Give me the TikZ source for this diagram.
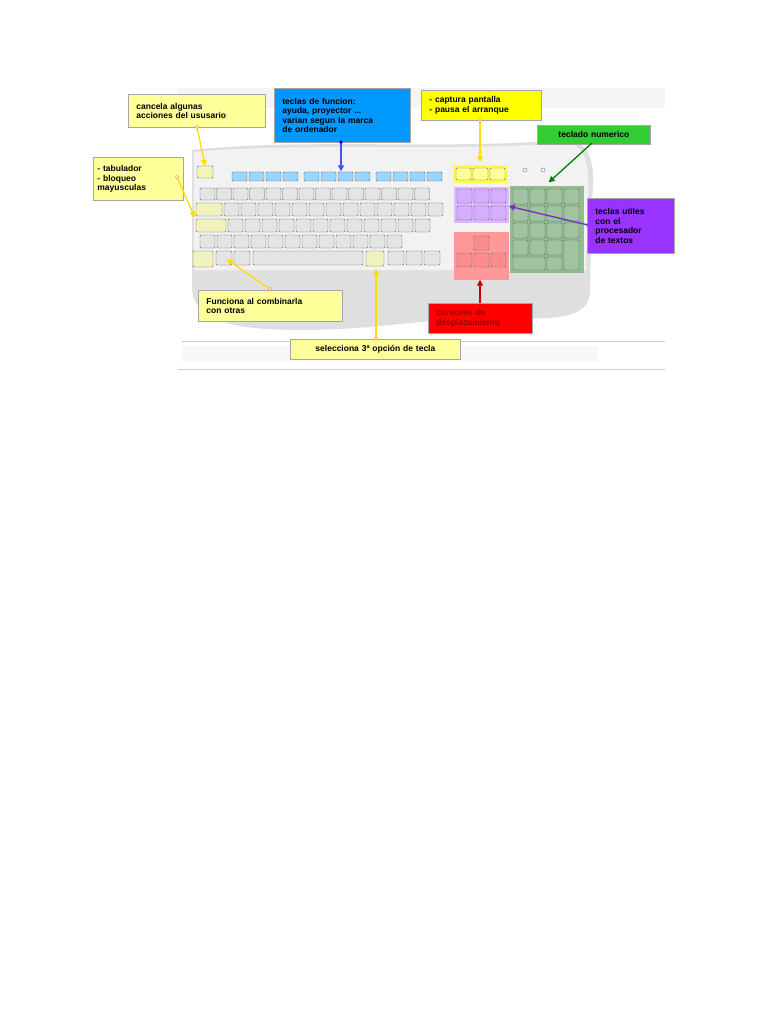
\documentclass[tikz,border=0pt]{standalone}
\usepackage{fontspec}
\setmainfont{Liberation Sans}
\usetikzlibrary{arrows.meta}
\definecolor{lyel}{HTML}{FFFF99}
\definecolor{byel}{HTML}{FFFF00}
\definecolor{lblue}{HTML}{0099FF}
\definecolor{lgreen}{HTML}{33CC33}
\definecolor{lpurp}{HTML}{9933FF}
\definecolor{lred}{HTML}{FF0000}
\definecolor{keyg}{HTML}{E4E4E4}
\tikzset{
 lab/.style={draw=gray!70,line width=0.8pt,anchor=north west,align=left,font=\bfseries\fontsize{8.5}{9.5}\selectfont,inner xsep=8pt,inner ysep=3pt},
 key/.style={draw=gray!80!black,fill=keyg,rounded corners=1pt,line width=0.4pt},
 ptr/.style={line width=1.3pt,-{Triangle[length=6pt,width=6pt]}},
 dot/.style={circle,inner sep=1.2pt,fill=white,draw},
}
\begin{document}
\begin{tikzpicture}[x=1pt,y=-1pt]
\useasboundingbox (0,0) rectangle (768,1024);
\fill[white] (0,0) rectangle (768,1024);
% image area
\fill[gray!8] (178,88) rectangle (665,108);
\fill[gray!6] (182,346) rectangle (597,362);
\draw[gray!40] (182,341) -- (665,341);
\draw[gray!40] (178,369) -- (665,369);
% keyboard body
\fill[gray!25] (192,150) .. controls (300,138) and (450,150) .. (560,140)
 .. controls (590,138) and (596,160) .. (592,200) -- (590,290)
 .. controls (590,318) and (560,320) .. (500,318)
 .. controls (420,318) and (380,330) .. (300,330)
 .. controls (230,330) and (195,320) .. (192,290) -- cycle;
\fill[gray!10] (194,152) .. controls (300,142) and (450,152) .. (560,143)
 .. controls (585,142) and (590,160) .. (588,200) -- (586,270) -- (194,270) -- cycle;
% esc
\node[key,fill=lyel!60!keyg,minimum width=16pt,minimum height=12pt] (esc) at (205,172) {};
% fn row
\foreach \x in {232,249,266,283, 304,321,338,355, 376,393,410,427}
 \draw[key,fill=lblue!40] (\x,172) rectangle ++(15,9);
\node[inner sep=0,minimum width=1pt] (fn) at (341,172) {};
% main rows
\foreach \i in {0,...,13} \draw[key] (200+\i*16.5,188) rectangle ++(15,12);
\draw[key,fill=lyel!50!keyg] (196,203) rectangle ++(26,13);
\foreach \i in {0,...,12} \draw[key] (224+\i*17,203) rectangle ++(15,13);
\draw[key,fill=lyel!50!keyg] (196,219) rectangle ++(30,13);
\foreach \i in {0,...,11} \draw[key] (228+\i*17,219) rectangle ++(15,13);
\foreach \i in {0,...,11} \draw[key] (200+\i*17,235) rectangle ++(15,13);
\draw[key,fill=lyel!50!keyg] (193,251) rectangle ++(20,16);
\draw[key] (216,251) rectangle ++(16,14);
\draw[key] (234,251) rectangle ++(16,14);
\draw[key] (253,251) rectangle ++(110,14);
\draw[key,fill=lyel!50!keyg] (366,251) rectangle ++(18,15);
\foreach \x in {388,406,424} \draw[key] (\x,251) rectangle ++(16,14);
\node[inner sep=0] (ctrl) at (226,259) {};
\node[inner sep=0] (altgr) at (376,268) {};
\node[inner sep=0] (tab) at (195,218) {};
% special groups
\fill[byel!70] (453,165) rectangle (508,183);
\foreach \x in {456,473,490} \draw[key,fill=lyel] (\x,168) rectangle ++(15,12);
\fill[lpurp!35] (454,187) rectangle (509,223);
\foreach \x in {457,474,491} \foreach \y in {189,206} \draw[key,fill=lpurp!40] (\x,\y) rectangle ++(15,14);
\fill[lred!40] (454,232) rectangle (509,280);
\draw[key,fill=lred!45] (474,236) rectangle ++(15,14);
\foreach \x in {457,474,491} \draw[key,fill=lred!45] (\x,253) rectangle ++(15,14);
\fill[lgreen!45!gray!70] (510,186) rectangle (584,273);
\foreach \i in {0,...,3} \foreach \j in {0,1,2} \draw[key,fill=lgreen!35!gray!60] (513+\i*17,189+\j*17) rectangle ++(15,15);
\foreach \i in {0,1,2} \draw[key,fill=lgreen!35!gray!60] (513+\i*17,240) rectangle ++(15,15);
\draw[key,fill=lgreen!35!gray!60] (564,240) rectangle ++(15,30);
\draw[key,fill=lgreen!35!gray!60] (513,257) rectangle ++(32,13);
\draw[key,fill=lgreen!35!gray!60] (547,257) rectangle ++(15,13);
\node[circle,draw=gray,inner sep=1.5pt] at (525,170) {};
\node[circle,draw=gray,inner sep=1.5pt] at (543,170) {};
\node[inner sep=0] (prt) at (480,163) {};
\node[inner sep=0] (num) at (548,183) {};
\node[inner sep=0] (edit) at (508,206) {};
\node[inner sep=0] (cur) at (480,279) {};
% labels
\node[lab,fill=lyel,text width=121pt,minimum height=33pt] (l1) at (128,94) {cancela algunas\\acciones del ususario};
\node[lab,fill=lblue,text width=120pt,minimum height=54pt] (l2) at (274,88) {teclas de funcion:\\ayuda, proyector ...\\varian segun la marca\\de ordenador};
\node[lab,fill=byel,text width=104pt,minimum height=30pt] (l3) at (421,90) {- captura pantalla\\- pausa el arranque};
\node[lab,fill=lgreen,text width=97pt,minimum height=19pt,align=center] (l4) at (537,125) {teclado numerico};
\node[lab,fill=lpurp,text width=71pt,minimum height=55pt] (l5) at (587,198) {teclas utiles\\con el\\procesador\\de textos};
\node[lab,fill=lyel,text width=82pt,minimum height=43pt,inner xsep=4pt] (l6) at (93,157) {- tabulador\\- bloqueo\\mayusculas};
\node[lab,fill=lyel,text width=128pt,minimum height=31pt] (l7) at (198,290) {Funciona al combinarla\\con otras};
\node[lab,fill=lred,text width=88pt,minimum height=30pt,text=red!60!black] (l8) at (428,303) {cursores de\\desplazamiento};
\node[lab,fill=lyel,text width=154pt,minimum height=20pt,align=center] (l9) at (290,339) {selecciona 3ª opción de tecla};
% pointers
\draw[ptr,draw=yellow!80!orange,fill=byel] (197,127) -- (esc.north);
\node[dot,draw=orange] at (197,127) {};
\draw[ptr,draw=blue!70,fill=blue] (341,142) -- (fn);
\node[dot,fill=blue,draw=blue] at (341,142) {};
\draw[ptr,draw=yellow!80!orange,fill=byel] (480,120) -- (prt);
\node[dot,draw=orange] at (480,120) {};
\draw[ptr,draw=green!50!black,fill=green!60!black] (592,143) -- (num);
\draw[ptr,draw=lpurp!80!black,fill=lpurp] (588,225) -- (edit);
\node[dot,fill=lpurp,draw=lpurp] at (588,225) {};
\draw[ptr,draw=yellow!80!orange,fill=byel] (177,177) -- (tab);
\node[dot,draw=orange] at (177,177) {};
\draw[ptr,draw=yellow!80!orange,fill=byel] (270,289) -- (ctrl);
\node[dot,draw=orange] at (270,289) {};
\draw[ptr,draw=red!80!black,fill=red] (480,303) -- (cur);
\draw[ptr,draw=yellow!80!orange,fill=byel] (376,339) -- (altgr);
\node[dot,draw=orange] at (376,339) {};
\end{tikzpicture}
\end{document}
